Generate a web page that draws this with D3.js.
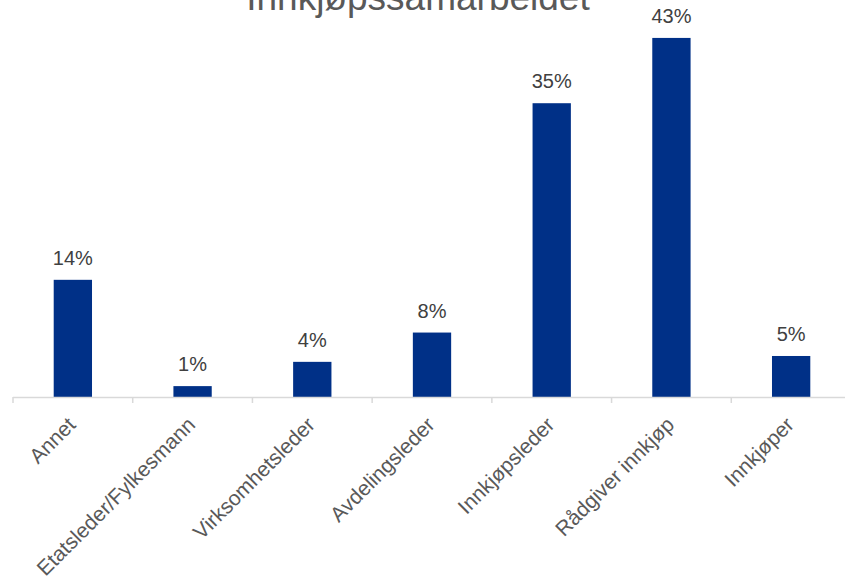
<!DOCTYPE html>
<html>
<head>
<meta charset="utf-8">
<script src="https://cdn.jsdelivr.net/npm/d3@7"></script>
<style>
  html, body { margin: 0; padding: 0; background: #fff; }
  svg { display: block; font-family: "Liberation Sans", Arial, sans-serif; }
</style>
</head>
<body>
<svg id="chart" width="845" height="577"></svg>
<script>
  const title = "Innkjøpssamarbeidet";
  const categories = ["Annet", "Etatsleder/Fylkesmann", "Virksomhetsleder", "Avdelingsleder", "Innkjøpsleder", "Rådgiver innkjøp", "Innkjøper"];
  const shares = [0.140, 0.013, 0.042, 0.077, 0.351, 0.429, 0.049];

  const W = 845, H = 577;
  const baseY = 397;
  const svg = d3.select("#chart");

  const x = d3.scaleBand()
    .domain(categories)
    .range([13, 851])
    .paddingInner(0.68)
    .paddingOuter(0.34);

  const y = d3.scaleLinear()
    .domain([0, 0.45])
    .range([baseY, baseY - 0.45 * 837]);

  const step = x.step();
  const fmt = d3.format(".0%");

  // title (cut by top edge in the original)
  svg.append("text")
    .attr("x", 418)
    .attr("y", 10)
    .attr("text-anchor", "middle")
    .attr("font-size", 37)
    .attr("fill", "#595959")
    .text(title);

  // bars
  svg.append("g").selectAll("rect")
    .data(categories)
    .join("rect")
    .attr("x", (d) => x(d))
    .attr("y", (d, i) => y(shares[i]))
    .attr("width", x.bandwidth())
    .attr("height", (d, i) => baseY - y(shares[i]))
    .attr("fill", "#003087");

  // value labels
  svg.append("g").selectAll("text")
    .data(categories)
    .join("text")
    .attr("x", (d) => x(d) + x.bandwidth() / 2)
    .attr("y", (d, i) => y(shares[i]) - 15)
    .attr("text-anchor", "middle")
    .attr("font-size", 20)
    .attr("fill", "#404040")
    .text((d, i) => fmt(shares[i]));

  // category axis
  const axis = svg.append("g");
  axis.append("line")
    .attr("x1", 13).attr("x2", W)
    .attr("y1", baseY + 0.5).attr("y2", baseY + 0.5)
    .attr("stroke", "#d9d9d9")
    .attr("stroke-width", 1.5);

  axis.selectAll("line.tick")
    .data(d3.range(categories.length + 1))
    .join("line")
    .attr("class", "tick")
    .attr("x1", (i) => 13 + i * step).attr("x2", (i) => 13 + i * step)
    .attr("y1", baseY).attr("y2", baseY + 6)
    .attr("stroke", "#d9d9d9")
    .attr("stroke-width", 1.5);

  axis.selectAll("text")
    .data(categories)
    .join("text")
    .attr("transform", (d) => `translate(${x(d) + x.bandwidth() / 2 + 4},${baseY + 29}) rotate(-45)`)
    .attr("text-anchor", "end")
    .attr("font-size", 21)
    .attr("fill", "#595959")
    .text((d) => d);
</script>
</body>
</html>
